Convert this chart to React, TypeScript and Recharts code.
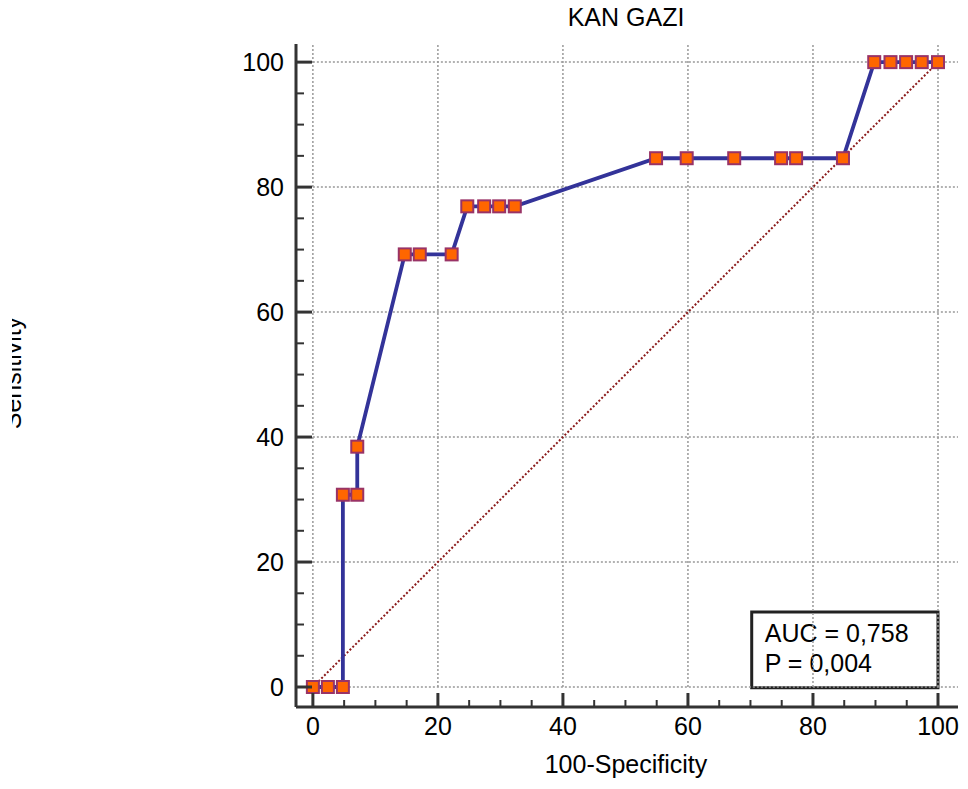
import { LineChart, Line, XAxis, YAxis, ReferenceLine, ReferenceArea } from 'recharts';

// ROC points: 100-Specificity vs Sensitivity
const fpr = [0, 2.4, 4.8, 4.8, 7.1, 7.1, 14.7, 17.1, 22.2, 24.7, 27.4, 29.8, 32.3, 54.9, 59.8, 67.4, 74.9, 77.3, 84.8, 89.8, 92.4, 94.9, 97.4, 100];
const sens = [0, 0, 0, 30.77, 30.77, 38.46, 69.23, 69.23, 69.23, 76.92, 76.92, 76.92, 76.92, 84.62, 84.62, 84.62, 84.62, 84.62, 84.62, 100, 100, 100, 100, 100];

const diagX = [0, 100];
const diagY = [0, 100];

const allTicks = [0, 5, 10, 15, 20, 25, 30, 35, 40, 45, 50, 55, 60, 65, 70, 75, 80, 85, 90, 95, 100];
const gridTicks = [0, 20, 40, 60, 80, 100];

const X_DOMAIN = [-2.7, 103.2];
const Y_DOMAIN = [-3.2, 102.9];

const FONT = '"Liberation Sans", Arial, sans-serif';
const AXIS_COLOR = '#333333';

const rocData = fpr.map((x, i) => ({ x, y: sens[i] }));
const diagData = diagX.map((x, i) => ({ x, y: diagY[i] }));

const Marker = (props: any) => {
    const { cx, cy } = props;
    if (cx == null || cy == null) return null;
    return <rect x={cx - 6} y={cy - 6} width={12} height={12} fill="#FF6600" stroke="#993366" strokeWidth={2} />;
};

const XTick = ({ x, y, payload }: any) => {
    const major = payload.value % 20 === 0;
    return (
        <g>
            <line x1={x} x2={x} y1={y} y2={y - (major ? 14 : 7)} stroke={AXIS_COLOR} strokeWidth={major ? 3 : 2} />
            {major && <text x={x} y={y + 28} textAnchor="middle" fontSize={25} fontFamily={FONT} fill="#000">{payload.value}</text>}
        </g>
    );
};

const YTick = ({ x, y, payload }: any) => {
    const major = payload.value % 20 === 0;
    return (
        <g>
            <line x1={x} x2={x + (major ? 16 : 8)} y1={y} y2={y} stroke={AXIS_COLOR} strokeWidth={major ? 3 : 2} />
            {major && <text x={x - 12} y={y} dy="0.35em" textAnchor="end" fontSize={25} fontFamily={FONT} fill="#000">{payload.value}</text>}
        </g>
    );
};

// the reference crops this label at its left edge
const YLabel = () => (
    <g>
        <defs>
            <clipPath id="ylab-clip">
                <rect x={12} y={0} width={200} height={789} />
            </clipPath>
        </defs>
        <g clipPath="url(#ylab-clip)">
            <text x={21} y={373} transform="rotate(-90, 21, 373)" textAnchor="middle" fontSize={25} fontFamily={FONT} fill="#000">Sensitivity</text>
        </g>
    </g>
);

const XLabel = () => (
    <text x={626} y={773} textAnchor="middle" fontSize={25} fontFamily={FONT} fill="#000">100-Specificity</text>
);

const AucLabel = ({ viewBox }: any) => (
    <g>
        <text x={viewBox.x + 13} y={viewBox.y + 30} fontSize={25} fontFamily={FONT} fill="#000">AUC = 0,758</text>
        <text x={viewBox.x + 13} y={viewBox.y + 60} fontSize={25} fontFamily={FONT} fill="#000">P = 0,004</text>
    </g>
);

export default function App() {
    return (
        <div style={{ position: 'absolute', left: 0, top: 0, width: 968, height: 789, background: '#fff' }}>
            <div style={{ position: 'absolute', left: 0, top: 2, width: 1252, textAlign: 'center', fontSize: 25, fontFamily: FONT, lineHeight: '30px' }}>KAN GAZI</div>
            <LineChart width={968} height={789} margin={{ top: 44, right: 10, bottom: 22, left: 216 }}>
                <XAxis
                    type="number"
                    dataKey="x"
                    domain={X_DOMAIN}
                    ticks={allTicks}
                    interval={0}
                    height={60}
                    tickSize={0}
                    tickMargin={0}
                    tickLine={false}
                    tick={<XTick />}
                    axisLine={{ stroke: AXIS_COLOR, strokeWidth: 3 }}
                    allowDataOverflow
                    label={{ content: () => <XLabel /> }}
                />
                <YAxis
                    type="number"
                    dataKey="y"
                    domain={Y_DOMAIN}
                    ticks={allTicks}
                    interval={0}
                    width={80}
                    tickSize={0}
                    tickMargin={0}
                    tickLine={false}
                    tick={<YTick />}
                    axisLine={{ stroke: AXIS_COLOR, strokeWidth: 3 }}
                    allowDataOverflow
                    label={{ content: () => <YLabel /> }}
                />
                {gridTicks.map(v => (
                    <ReferenceLine key={`h${v}`} segment={[{ x: 0, y: v }, { x: X_DOMAIN[1], y: v }]} stroke="#999" strokeWidth={1.5} strokeDasharray="2 2" />
                ))}
                {gridTicks.map(v => (
                    <ReferenceLine key={`v${v}`} segment={[{ x: v, y: 0 }, { x: v, y: Y_DOMAIN[1] }]} stroke="#999" strokeWidth={1.5} strokeDasharray="2 2" />
                ))}
                <ReferenceArea x1={70.2} x2={100} y1={-0.1} y2={12} fill="#fff" fillOpacity={1} stroke="#222" strokeWidth={3} label={<AucLabel />} />
                <Line data={diagData} dataKey="y" type="linear" stroke="#8B1A1A" strokeWidth={2} strokeDasharray="2 2" dot={false} activeDot={false} isAnimationActive={false} />
                <Line data={rocData} dataKey="y" type="linear" stroke="#333399" strokeWidth={3.8} dot={<Marker />} activeDot={false} isAnimationActive={false} />
            </LineChart>
        </div>
    );
}
